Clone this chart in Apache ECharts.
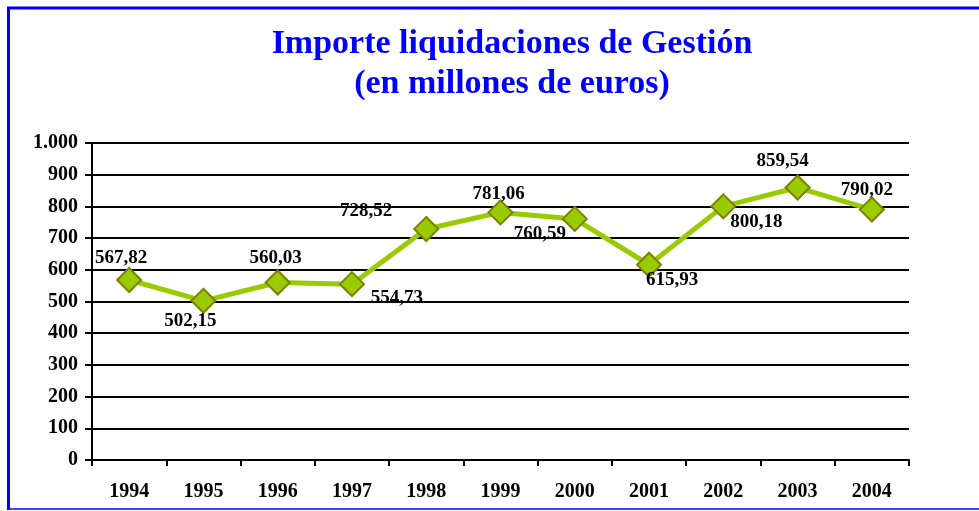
<!DOCTYPE html>
<html>
<head>
<meta charset="utf-8">
<title>Importe liquidaciones de Gestión</title>
<script src="https://cdn.jsdelivr.net/npm/echarts@6/dist/echarts.min.js"></script>
<style>
  html, body { margin: 0; padding: 0; background: #fff; }
  #chart { width: 979px; height: 511px; }
</style>
</head>
<body>
<div id="chart"></div>
<script>
  // datos del grafico
  const years = ['1994', '1995', '1996', '1997', '1998', '1999', '2000', '2001', '2002', '2003', '2004']
  const importes = [567.82, 502.15, 560.03, 554.73, 728.52, 781.06, 760.59, 615.93, 800.18, 859.54, 790.02]
  const yTicks = [0, 100, 200, 300, 400, 500, 600, 700, 800, 900, 1000]

  // colocacion de cada etiqueta respecto a su punto [dx, dy]
  const labelOffsets = [
    [-8, -22], [-13, 20], [-2, -24], [45, 14], [-60, -18],
    [-2, -18], [-35, 15], [23, 15], [33, 16], [-15, -26], [-5, -19]
  ]

  const serif = '"Liberation Serif", "DejaVu Serif", serif'
  const fmt = v => v.toFixed(2).replace('.', ',')

  const chart = echarts.init(document.getElementById('chart'))

  chart.setOption({
    animation: false,
    backgroundColor: '#fff',
    title: {
      text: 'Importe liquidaciones de Gestión\n(en millones de euros)',
      left: 507,
      textAlign: 'center',
      top: 19,
      textStyle: {
        fontFamily: serif,
        fontWeight: 'bold',
        fontSize: 34,
        lineHeight: 40,
        color: '#0000ff'
      }
    },
    grid: {
      left: 92,
      right: 70,
      top: 143,
      bottom: 51
    },
    xAxis: {
      type: 'category',
      data: years,
      boundaryGap: true,
      axisLine: { lineStyle: { color: '#000', width: 2 } },
      axisTick: { show: true, length: 6, lineStyle: { color: '#000', width: 2 } },
      axisLabel: {
        margin: 22,
        fontFamily: serif,
        fontWeight: 'bold',
        fontSize: 20,
        color: '#000'
      }
    },
    yAxis: {
      type: 'value',
      min: yTicks[0],
      max: yTicks[yTicks.length - 1],
      interval: 100,
      axisLine: { show: true, lineStyle: { color: '#000', width: 2 } },
      axisTick: { show: true, length: 7, lineStyle: { color: '#000', width: 2 } },
      splitLine: { show: true, lineStyle: { color: '#000', width: 2 } },
      axisLabel: {
        margin: 14,
        fontFamily: serif,
        fontWeight: 'bold',
        fontSize: 20,
        color: '#000',
        formatter: v => v >= 1000 ? (v / 1000) + '.' + String(v % 1000).padStart(3, '0') : String(v)
      }
    },
    series: [{
      type: 'line',
      data: importes.map((v, i) => ({
        value: v,
        label: { offset: labelOffsets[i] }
      })),
      symbol: 'diamond',
      symbolSize: 24,
      lineStyle: { color: '#99cc00', width: 5 },
      itemStyle: { color: '#99cc00', borderColor: '#7f7f00', borderWidth: 2 },
      label: {
        show: true,
        position: 'inside',
        fontFamily: serif,
        fontWeight: 'bold',
        fontSize: 19,
        color: '#000',
        formatter: p => fmt(p.value)
      },
      z: 5
    }],
    graphic: [
      // marco azul
      { type: 'line', shape: { x1: 7, y1: 8, x2: 979, y2: 8 }, style: { stroke: '#0000ff', lineWidth: 3 } },
      { type: 'line', shape: { x1: 8.5, y1: 7, x2: 8.5, y2: 510 }, style: { stroke: '#0000ff', lineWidth: 3 } },
      { type: 'line', shape: { x1: 7, y1: 509, x2: 979, y2: 509 }, style: { stroke: '#0000ff', lineWidth: 1.5 } }
    ]
  })
</script>
</body>
</html>
